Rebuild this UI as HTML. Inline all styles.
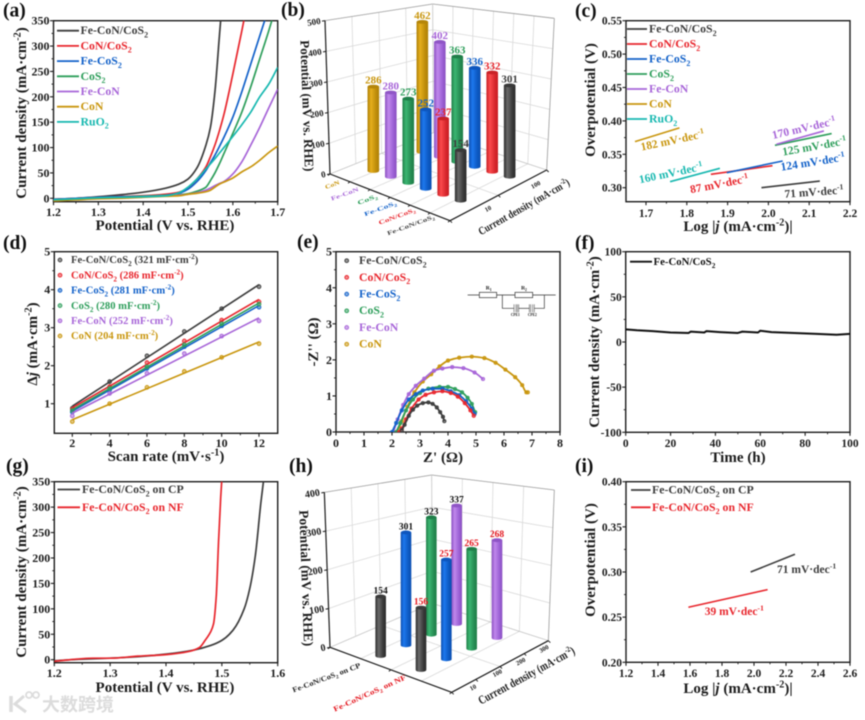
<!DOCTYPE html>
<html lang="en">
<head>
<meta charset="utf-8">
<title>Electrocatalysis figure panels</title>
<style>
html,body{margin:0;padding:0;background:#fff;}
body{width:865px;height:720px;overflow:hidden;position:relative;}
#figure{position:absolute;left:0;top:0;filter:blur(0.5px);}
text{font-family:"Liberation Serif","Noto Serif CJK SC",serif;font-weight:bold;}
</style>
</head>
<body>
<svg id="figure" xmlns="http://www.w3.org/2000/svg" width="865" height="720" viewBox="0 0 865 720"></svg>
<script>
/* ---------- panel (a) data ---------- */
const potentialA = [1.2,1.25,1.3,1.35,1.4,1.45,1.48,1.5,1.52,1.54,1.55,1.56,1.57,1.58,1.6,1.62,1.64,1.66,1.68,1.7];
const lsvFeCoNCoS2 = [-2,0,3,7,12,20,28,38,60,105,140,210,320,430];
const lsvCoNCoS2 = [-2,0,2,3.5,5,8,12,20,38,62,82,105,133,165,245,330,420];
const lsvFeCoS2 = [-2,0,2,3,4,6,10,18,33,55,70,85,102,120,160,210,265,320,375];
const lsvCoS2 = [-3,-1,1,2,4,6,7,9,14,22,35,50,68,88,128,170,220,275,330,390];
const lsvFeCoN = [-4,-2,0,1,3,5,6,8,11,16,20,25,29,33,48,72,105,140,178,215];
const lsvCoN = [-5,-3,-1,0,2,4,5,8,10,13,16,22,28,32,40,52,62,75,90,103];
const lsvRuO2 = [-3,-1,1,2,3,5,11,22,38,58,68,78,89,100,122,145,170,200,225,258];
const ticksAx = ["1.2","1.3","1.4","1.5","1.6","1.7"];
const ticksAy = ["0","50","100","150","200","250","300","350"];
const namesA = ["Fe-CoN/CoS_{2}","CoN/CoS_{2}","Fe-CoS_{2}","CoS_{2}","Fe-CoN","CoN","RuO_{2}"];

/* ---------- panel (b) data ---------- */
const categoriesB = ["CoN","Fe-CoN","CoS_{2}","Fe-CoS_{2}","CoN/CoS_{2}","Fe-CoN/CoS_{2}"];
const potentialAt10 = [286,280,273,252,237,154];
const potentialAt100 = [462,402,363,336,332,301];
const ticksBz = ["0","100","200","300","400","500"];

/* ---------- panel (c) data ---------- */
const tafelStartX = [1.983,1.859,1.898,2.016,2.02,1.673,1.759];
const tafelEndX = [2.126,2.01,2.035,2.155,2.136,1.782,1.881];
const tafelStartY = [0.30,0.32,0.3225,0.3635,0.365,0.369,0.309];
const tafelEndY = [0.31,0.333,0.34,0.381,0.385,0.3895,0.329];
const slopeLabels = ["71","87","124","125","170","182","160"];
const ticksCx = ["1.7","1.8","1.9","2.0","2.1","2.2"];
const ticksCy = ["0.30","0.35","0.40","0.45","0.50","0.55"];

/* ---------- panel (d) data ---------- */
const scanRate = [2,4,6,8,10,12];
const dlFeCoNCoS2 = [0.88,1.58,2.26,2.9,3.5,4.08];
const dlCoNCoS2 = [0.85,1.45,2.08,2.65,3.2,3.68];
const dlFeCoS2 = [0.78,1.36,1.93,2.5,3.05,3.54];
const dlCoS2 = [0.82,1.4,1.97,2.55,3.1,3.62];
const dlFeCoN = [0.68,1.27,1.8,2.32,2.78,3.18];
const dlCoN = [0.53,1,1.43,1.85,2.22,2.58];
const capacitance = ["321","286","281","280","252","204"];
const ticksDx = ["2","4","6","8","10","12"];
const ticksDy = ["1","2","3","4","5"];

/* ---------- panel (e) data ---------- */
const eisFeCoNCoS2X = [2.35,2.45,2.6,2.75,2.9,3.1,3.3,3.45,3.6,3.72,3.82,3.87];
const eisFeCoNCoS2Y = [0.05,0.2,0.45,0.62,0.73,0.8,0.82,0.78,0.68,0.55,0.42,0.3];
const eisCoNCoS2X = [2.25,2.35,2.5,2.7,2.95,3.2,3.5,3.8,4.1,4.35,4.6,4.8,4.92];
const eisCoNCoS2Y = [0,0.1,0.35,0.65,0.9,1.03,1.1,1.13,1.08,0.98,0.8,0.6,0.45];
const eisFeCoS2X = [2,2.15,2.35,2.6,2.85,3.1,3.45,3.8,4.1,4.4,4.65,4.85,4.95];
const eisFeCoS2Y = [0,0.25,0.6,0.9,1.05,1.15,1.2,1.2,1.13,1.02,0.85,0.65,0.5];
const eisCoS2X = [2.15,2.3,2.5,2.75,3,3.3,3.7,4,4.25,4.5,4.7,4.85,4.97];
const eisCoS2Y = [0,0.25,0.6,0.9,1.08,1.2,1.25,1.25,1.19,1.1,0.95,0.78,0.55];
const eisFeCoNX = [2.05,2.2,2.4,2.6,2.85,3.15,3.5,3.8,4.15,4.55,4.95,5.25];
const eisFeCoNY = [0,0.35,0.75,1.05,1.28,1.48,1.7,1.76,1.8,1.77,1.65,1.47];
const eisCoNX = [2.2,2.35,2.55,2.8,3.1,3.4,3.7,4,4.4,4.85,5.3,5.7,6.05,6.4,6.65,6.8,6.85];
const eisCoNY = [0,0.3,0.7,1.1,1.4,1.6,1.82,1.98,2.06,2.09,2.05,1.92,1.73,1.52,1.3,1.1,1.1];
const ticksEx = ["0","1","2","3","4","5","6","7","8"];
const ticksEy = ["0","1","2","3","4","5"];
const namesE = ["Fe-CoN/CoS_{2}","CoN/CoS_{2}","Fe-CoS_{2}","CoS_{2}","Fe-CoN","CoN"];

/* ---------- panel (f) data ---------- */
const stabilityTime = [0,5,12,20,28,29,35,36,42,50,52,59,60,65,75,85,94,100];
const stabilityCurrent = [14,13,12,10.5,10,11.5,10.5,12,11,10,11.5,10.5,12.5,11,10,9,8,9];
const ticksFx = ["0","20","40","60","80","100"];
const ticksFy = ["-100","-50","0","50","100"];

/* ---------- panel (g) data ---------- */
const potentialCP = [1.2,1.25,1.3,1.35,1.4,1.45,1.48,1.5,1.52,1.54,1.55,1.56,1.57,1.575];
const currentCP = [-2,1,3,6,11,19,28,38,58,100,140,205,310,355];
const potentialNF = [1.2,1.27,1.3,1.35,1.4,1.44,1.46,1.47,1.48,1.485,1.49,1.494,1.498,1.5];
const currentNF = [-3,3,3,7,10,16,24,38,55,70,125,230,320,355];
const ticksGx = ["1.2","1.3","1.4","1.5","1.6"];
const ticksGy = ["0","50","100","150","200","250","300","350"];

/* ---------- panel (h) data ---------- */
const categoriesH = ["Fe-CoN/CoS_{2} on CP","Fe-CoN/CoS_{2} on NF"];
const densityLabelsH = ["10","100","200","300"];
const potentialOnCP = [154,301,323,337];
const potentialOnNF = [156,257,265,268];
const ticksHz = ["0","100","200","300","400"];

/* ---------- panel (i) data ---------- */
const tafelIStartX = [1.979,1.59];
const tafelIEndX = [2.256,2.085];
const tafelIStartY = [0.30,0.261];
const tafelIEndY = [0.3196,0.2805];
const ticksIx = ["1.2","1.4","1.6","1.8","2.0","2.2","2.4","2.6"];
const ticksIy = ["0.20","0.25","0.30","0.35","0.40"];

/* ---------- drawing helpers ---------- */
const NS = "http://www.w3.org/2000/svg";
const svg = document.getElementById("figure");
const INK = "#1c1c1c";
const COL = {black:"#3d3d3d",red:"#e8262d",blue:"#1261c9",green:"#2e9e5b",purple:"#a765d8",gold:"#c9960e",cyan:"#17b8b0"};
const seven = [COL.black,COL.red,COL.blue,COL.green,COL.purple,COL.gold,COL.cyan];

function el(tag, attrs, name, parent){
  const e = document.createElementNS(NS, tag);
  for(const k in attrs){ e.setAttribute(k, attrs[k]); }
  
  
  (parent || svg).appendChild(e);
  return e;
}
function lin(d0,d1,r0,r1){
  return v => r0 + (v-d0)*(r1-r0)/(d1-d0);
}
function richText(node, str, size){
  const parts = str.split(/(_\{[^}]*\}|\^\{[^}]*\}|\*[^*]+\*)/).filter(s => s.length);
  let shift = 0;
  parts.forEach(p => {
    const t = document.createElementNS(NS, "tspan");
    let want = 0, content = p;
    if(p[0]==="_"){ want = size*0.28; content = p.slice(2,-1); t.setAttribute("font-size", size*0.68); }
    else if(p[0]==="^"){ want = -size*0.38; content = p.slice(2,-1); t.setAttribute("font-size", size*0.68); }
    else if(p[0]==="*"){ content = p.slice(1,-1); t.setAttribute("font-style","italic"); }
    if(want !== shift){ t.setAttribute("dy", want-shift); shift = want; }
    t.textContent = content;
    node.appendChild(t);
  });
}
function txt(x, y, str, o, name, parent){
  o = o || {};
  const size = o.size || 11.8;
  const a = {x:x, y:y, "font-size":size, fill:o.fill || INK, "text-anchor":o.anchor || "start"};
  if(o.rotate !== undefined){ a.transform = "rotate("+o.rotate+" "+x+" "+y+")"; }
  if(o.len){ a.textLength = o.len; a.lengthAdjust = "spacingAndGlyphs"; }
  if(o.family){ a.style = "font-family:"+o.family+";font-weight:"+(o.weight||"normal"); }
  const e = el("text", a, name, parent);
  richText(e, str, size);
  return e;
}
function ln(x1,y1,x2,y2,stroke,w,name,parent){
  return el("line",{x1:x1,y1:y1,x2:x2,y2:y2,stroke:stroke,"stroke-width":w,"stroke-linecap":"butt"},name,parent);
}
function polyline(xv, yv, xs, ys, stroke, w, name, parent){
  const n = Math.min(xv.length, yv.length);
  const pts = [];
  for(let i=0;i<n;i++){ pts.push(xs(xv[i]).toFixed(2)+","+ys(yv[i]).toFixed(2)); }
  return el("polyline",{points:pts.join(" "),fill:"none",stroke:stroke,"stroke-width":w,"stroke-linejoin":"round"},name,parent);
}
/* monotone cubic curve through the data points (x strictly increasing) */
function curve(xv, yv, xs, ys, stroke, w, name, parent){
  const n = Math.min(xv.length, yv.length);
  const px = [], py = [];
  for(let i=0;i<n;i++){ px.push(xs(xv[i])); py.push(ys(yv[i])); }
  const h = [], d = [], m = [];
  for(let i=0;i<n-1;i++){ h.push(px[i+1]-px[i]); d.push((py[i+1]-py[i])/h[i]); }
  m[0] = d[0]; m[n-1] = d[n-2];
  for(let i=1;i<n-1;i++){
    if(d[i-1]*d[i] <= 0){ m[i] = 0; }
    else {
      const w1 = 2*h[i]+h[i-1], w2 = h[i]+2*h[i-1];
      m[i] = (w1+w2)/(w1/d[i-1]+w2/d[i]);
    }
  }
  let path = "M"+px[0].toFixed(2)+" "+py[0].toFixed(2);
  for(let i=0;i<n-1;i++){
    const c = h[i]/3;
    path += "C"+(px[i]+c).toFixed(2)+" "+(py[i]+m[i]*c).toFixed(2)+" "+(px[i+1]-c).toFixed(2)+" "+(py[i+1]-m[i+1]*c).toFixed(2)+" "+px[i+1].toFixed(2)+" "+py[i+1].toFixed(2);
  }
  return el("path",{d:path,fill:"none",stroke:stroke,"stroke-width":w,"stroke-linejoin":"round"},name,parent);
}
let clipCounter = 0;
function panel(name, label, lx, ly){
  const g = el("g",{},"panel-"+name);
  txt(lx, ly, label, {size:19.5, fill:"#111"}, "panel-label-"+name, g);
  return g;
}
function axes(g, c){
  el("rect",{x:c.l,y:c.t,width:c.r-c.l,height:c.b-c.t,fill:"none",stroke:INK,"stroke-width":1.4},"plot-frame",g);
  const xv = c.xticks.map(Number), yv = c.yticks.map(Number);
  c.xticks.forEach((s,i) => {
    const x = c.xs(xv[i]);
    ln(x,c.b,x,c.b+3.5,INK,1.1,"x-tick",g);
    txt(x,c.xbase,s,{anchor:"middle",size:c.tsize||12},"x-tick-label",g);
    if(i<xv.length-1){
      const m = c.xs((xv[i]+xv[i+1])/2);
      ln(m,c.b,m,c.b+2,INK,0.9,"x-minor-tick",g);
    }
  });
  c.yticks.forEach((s,i) => {
    const y = c.ys(yv[i]);
    ln(c.l-3.5,y,c.l,y,INK,1.1,"y-tick",g);
    txt(c.l-4,y+4,s,{anchor:"end",size:c.tsize||12},"y-tick-label",g);
    if(i<yv.length-1){
      const m = c.ys((yv[i]+yv[i+1])/2);
      ln(c.l-2,m,c.l,m,INK,0.9,"y-minor-tick",g);
    }
  });
  txt(c.xtx,c.xty,c.xtitle,{anchor:"middle",size:15},"x-axis-title",g);
  txt(c.ytx,c.yty,c.ytitle,{anchor:"middle",size:c.ytsize||15,rotate:-90},"y-axis-title",g);
  const id = "clip"+(++clipCounter);
  const cp = el("clipPath",{id:id},"plot-clip",g);
  el("rect",{x:c.l,y:c.t,width:c.r-c.l,height:c.b-c.t},"plot-clip-rect",cp);
  return el("g",{"clip-path":"url(#"+id+")"},"plot-area",g);
}
function lineLegend(g, names, colors, lx0, lx1, tx, y0, step, size, textColors){
  names.forEach((n,i) => {
    const y = y0 + step*i;
    ln(lx0,y,lx1,y,colors[i],1.8,"legend-line",g);
    txt(tx,y+3.5,n,{fill:(textColors||colors)[i],size:size||11.8},"legend-entry",g);
  });
}
function markers(g, xv, yv, xs, ys, color, r, name){
  xv.forEach((v,i) => {
    el("circle",{cx:xs(v),cy:ys(yv[i]),r:r,fill:color,"fill-opacity":0.55,stroke:color,"stroke-width":0.9},name,g);
  });
}
function mean(a){ return a.reduce((s,v)=>s+v,0)/a.length; }
function linearFit(xv,yv){
  const mx = mean(xv), my = mean(yv);
  let n=0,d=0;
  xv.forEach((v,i)=>{ n+=(v-mx)*(yv[i]-my); d+=(v-mx)*(v-mx); });
  const b = n/d;
  return v => my + b*(v-mx);
}

/* gradients for 3D cylinders */
const defs = el("defs",{},"gradient-definitions");
const BAR = {
  grey:["#2b2b2b","#6a6a6a","#383838","#3a3a3a"],
  blue:["#0d4fb0","#1d78ee","#0c58c0","#0e56bd"],
  green:["#1f7f48","#3cb672","#258a52","#1f7e49"],
  purple:["#8a4fc0","#c088ec","#9a5fd4","#8f55c6"],
  red:["#c81f24","#fb4a4d","#d6262b","#c92227"],
  gold:["#ae8008","#e6ae1c","#bd8c0a","#b5860a"]
};
Object.keys(BAR).forEach(k => {
  const g = el("linearGradient",{id:"cyl-"+k,x1:"0",x2:"1",y1:"0",y2:"0"},"cylinder-gradient",defs);
  const stops = [[0,BAR[k][0]],[0.3,BAR[k][1]],[0.75,BAR[k][2]],[1,BAR[k][0]]];
  stops.forEach(s => { el("stop",{offset:s[0],"stop-color":s[1]},"gradient-stop",g); });
});
function cylinder(g, x, yBase, h, rx, ry, key, name){
  const top = yBase - h;
  el("path",{d:"M"+(x-rx)+" "+top+"V"+yBase+"A"+rx+" "+ry+" 0 0 0 "+(x+rx)+" "+yBase+"V"+top+"Z",fill:"url(#cyl-"+key+")"},name,g);
  el("ellipse",{cx:x,cy:top,rx:rx,ry:ry,fill:BAR[key][3]},name+"-top",g);
}
function wallLines(g, a, b, c, d, n){
  for(let i=1;i<n;i++){
    const t = i/n;
    ln(a[0]+(b[0]-a[0])*t,a[1]+(b[1]-a[1])*t,d[0]+(c[0]-d[0])*t,d[1]+(c[1]-d[1])*t,"#d9d9d9",0.8,"grid-line",g);
  }
}
function edgeTicks(g, a, b, n, dx, dy, name){
  for(let i=0;i<=n;i++){
    const t = i/n, x = a[0]+(b[0]-a[0])*t, y = a[1]+(b[1]-a[1])*t;
    ln(x,y,x+dx,y+dy,INK,0.9,name,g);
  }
}

/* ---------- panel a ---------- */
(function(){
  const g = panel("a","(a)",3,16.5);
  const xs = lin(1.2,1.7,53.5,277.7), ys = lin(0,350,198.3,20.7);
  const area = axes(g,{l:53.5,r:277.7,t:20.7,b:201.7,xs:xs,ys:ys,xticks:ticksAx,yticks:ticksAy,xbase:216,
    xtitle:"Potential (V vs. RHE)",xtx:165,xty:230,ytitle:"Current density (mA·cm^{-2})",ytx:26,yty:113});
  const series = [lsvFeCoNCoS2,lsvCoNCoS2,lsvFeCoS2,lsvCoS2,lsvFeCoN,lsvCoN,lsvRuO2];
  series.forEach((s,i) => { curve(potentialA,s,xs,ys,seven[i],1.7,"lsv-curve",area); });
  lineLegend(g,namesA,seven,57,79,80.5,30.7,15.2);
})();

/* ---------- panel b ---------- */
(function(){
  const g = panel("b","(b)",281,16);
  const ox = 285, oy = 0;
  const P = (x,y) => [ox+x/3, oy+y/3];
  const O=P(135,522),A=P(495,662),B=P(785,510),TL=P(120,62),TB=P(443,12),TR=P(808,55),CB=P(445,398);
  wallLines(g,TL,TB,CB,O,4);
  wallLines(g,TB,TR,B,CB,6);
  wallLines(g,O,TL,TB,CB,5);
  wallLines(g,CB,TB,TR,B,5);
  wallLines(g,O,A,B,CB,6);
  wallLines(g,O,CB,B,A,2);
  ln(TL[0],TL[1],TB[0],TB[1],"#9a9a9a",0.8,"wall-top-edge",g);
  ln(TB[0],TB[1],TR[0],TR[1],"#9a9a9a",0.8,"wall-top-edge",g);
  ln(TB[0],TB[1],CB[0],CB[1],"#c4c4c4",0.8,"back-corner-edge",g);
  ln(TR[0],TR[1],B[0],B[1],"#9a9a9a",0.8,"wall-right-edge",g);
  ln(O[0],O[1],CB[0],CB[1],"#c4c4c4",0.8,"floor-back-edge",g);
  ln(CB[0],CB[1],B[0],B[1],"#c4c4c4",0.8,"floor-back-edge",g);
  ln(TL[0],TL[1],O[0],O[1],INK,1.2,"z-axis",g);
  ln(O[0],O[1],A[0],A[1],INK,1.2,"x-axis",g);
  ln(A[0],A[1],B[0],B[1],INK,1.2,"y-axis",g);
  edgeTicks(g,O,A,6,-2,1.5,"category-tick");
  edgeTicks(g,A,B,2,2,2,"density-tick");
  const zt = lin(0,500,0,1);
  ticksBz.forEach(s => {
    const t = zt(Number(s)), x = O[0]+(TL[0]-O[0])*t, y = O[1]+(TL[1]-O[1])*t;
    ln(x-3,y+0.5,x,y,INK,1,"z-tick",g);
    txt(x-4,y+3,s,{anchor:"end",size:9,rotate:-10},"z-tick-label",g);
  });
  txt(ox+50/3+1,oy+318/3,"Potential (mV vs. RHE)",{anchor:"middle",size:13,rotate:88},"z-axis-title",g);
  const keys = ["gold","purple","green","blue","red","grey"];
  const colors = [COL.gold,COL.purple,COL.green,COL.blue,COL.red,COL.black];
  const baseX = (i,r) => 265 + 52.4*i + 147*r;
  const baseY = (i,r) => 513 + 17.8*i - (57+3*i)*r;
  const heightOf = (v,i,r) => v*((0.885+0.02*i) - r*(0.04+0.007*i));
  [potentialAt100,potentialAt10].forEach((vals,idx) => {
    const r = idx===0 ? 1 : 0;
    vals.forEach((v,i) => {
      const x = ox+baseX(i,r)/3, y = oy+baseY(i,r)/3, h = heightOf(v,i,r)/3;
      cylinder(g,x,y,h,5.8,1.9,keys[i],"bar-"+(r?"100":"10")+"-"+i);
      txt(x,y-h-3,String(v),{anchor:"middle",size:11,fill:colors[i]},"bar-value-label",g);
    });
  });
  const catWidth = [15,29,21,34,39,50];
  categoriesB.forEach((c,i) => {
    txt(ox+(165+57*i)/3,oy+(552+20.6*i)/3,c,{anchor:"end",size:6,rotate:-20,fill:colors[i],len:catWidth[i]},"category-label",g);
  });
  txt(ox+612/3,oy+632/3,"10",{anchor:"middle",size:6.5,rotate:-28},"density-tick-label",g);
  txt(ox+755/3,oy+560/3,"100",{anchor:"middle",size:6.5,rotate:-28},"density-tick-label",g);
  txt(ox+722/3,oy+630/3,"Current density (mA·cm^{-2})",{anchor:"middle",size:11,rotate:-29.5,len:103},"density-axis-title",g);
})();

/* ---------- panel c ---------- */
(function(){
  const g = panel("c","(c)",575,17);
  const xs = lin(1.7,2.2,646,850), ys = lin(0.3,0.55,187.7,20.7);
  const area = axes(g,{l:626,r:850,t:20.7,b:201.7,xs:xs,ys:ys,xticks:ticksCx,yticks:ticksCy,xbase:217,tsize:11.5,
    xtitle:"Log |*j* (mA·cm^{-2})|",xtx:738,xty:231,ytitle:"Overpotential (V)",ytx:595,yty:100});
  tafelStartX.forEach((x0,i) => {
    polyline([x0,tafelEndX[i]],[tafelStartY[i],tafelEndY[i]],xs,ys,seven[i],1.6,"tafel-line",area);
  });
  lineLegend(g,namesA,seven,627,647,649,29,15);
  const place = [[718,587,-4],[435,563,-11],[715,497,-9],[720,450,-10],[689,395,-13],[295,432,-12],[290,530,-12]];
  slopeLabels.forEach((s,i) => {
    txt(575+place[i][0]/3,place[i][1]/3,s+" mV·dec^{-1}",{anchor:"middle",size:11.5,fill:seven[i],rotate:place[i][2]},"tafel-slope-label",g);
  });
})();

/* ---------- panel d ---------- */
(function(){
  const g = panel("d","(d)",3,249);
  const xs = lin(2,12,72.3,259), ys = lin(1,5,403.7,251.7);
  const area = axes(g,{l:54.3,r:277.7,t:251.7,b:433.3,xs:xs,ys:ys,xticks:ticksDx,yticks:ticksDy,xbase:447,
    xtitle:"Scan rate (mV·s^{-1})",xtx:166,xty:461,ytitle:"Δ*j* (mA·cm^{-2})",ytx:37,yty:344});
  const series = [dlFeCoNCoS2,dlCoNCoS2,dlFeCoS2,dlCoS2,dlFeCoN,dlCoN];
  const cols = seven.slice(0,6);
  const names = ["Fe-CoN/CoS_{2}","CoN/CoS_{2}","Fe-CoS_{2}","CoS_{2}","Fe-CoN","CoN"];
  series.forEach((s,i) => {
    const fit = linearFit(scanRate,s);
    polyline([2,12],[fit(2),fit(12)],xs,ys,cols[i],1.6,"capacitance-fit-line",area);
    markers(area,scanRate,s,xs,ys,cols[i],1.9,"capacitance-point");
  });
  names.forEach((n,i) => {
    const y = 260+15.2*i;
    el("circle",{cx:60,cy:y,r:1.9,fill:cols[i],"fill-opacity":0.55,stroke:cols[i],"stroke-width":0.9},"legend-marker",g);
    txt(71,y+3.2,n+" ("+capacitance[i]+" mF·cm^{-2})",{fill:cols[i],size:10.6},"legend-entry",g);
  });
})();

/* ---------- panel e ---------- */
(function(){
  const g = panel("e","(e)",297,248);
  const xs = lin(0,8,336,560), ys = lin(0,5,432,251.7);
  const area = axes(g,{l:336,r:560,t:251.7,b:432,xs:xs,ys:ys,xticks:ticksEx,yticks:ticksEy,xbase:447,
    xtitle:"Z' (Ω)",xtx:443,xty:462,ytitle:"-Z'' (Ω)",ytx:318,yty:342});
  const X = [eisFeCoNCoS2X,eisCoNCoS2X,eisFeCoS2X,eisCoS2X,eisFeCoNX,eisCoNX];
  const Y = [eisFeCoNCoS2Y,eisCoNCoS2Y,eisFeCoS2Y,eisCoS2Y,eisFeCoNY,eisCoNY];
  const cols = seven.slice(0,6);
  [5,4,3,2,1,0].forEach(i => {
    curve(X[i],Y[i],xs,ys,cols[i],1.8,"nyquist-fit-curve",area);
    markers(area,X[i],Y[i],xs,ys,cols[i],1.6,"nyquist-point");
  });
  namesE.forEach((n,i) => {
    const y = 260.7+16.7*i;
    el("circle",{cx:346.7,cy:y,r:1.9,fill:cols[i],"fill-opacity":0.55,stroke:cols[i],"stroke-width":0.9},"legend-marker",g);
    txt(359,y+3.4,n,{fill:cols[i],size:11.8},"legend-entry",g);
  });
  const c = el("g",{},"equivalent-circuit-inset",g);
  const cx = z => 290+z/3, cy = z => 235+z/3;
  ln(cx(533),cy(180),cx(797),cy(180),"#333",0.7,"circuit-wire",c);
  [[568,620],[675,728]].forEach(b => {
    el("rect",{x:cx(b[0]),y:cy(172),width:(b[1]-b[0])/3,height:16/3,fill:"#fff",stroke:"#333","stroke-width":0.7},"circuit-resistor",c);
  });
  const branch = [[637,180],[637,220],[672,220]];
  el("polyline",{points:branch.map(p=>cx(p[0])+","+cy(p[1])).join(" "),fill:"none",stroke:"#333","stroke-width":0.7},"circuit-wire",c);
  el("polyline",{points:[[763,180],[763,220],[733,220]].map(p=>cx(p[0])+","+cy(p[1])).join(" "),fill:"none",stroke:"#333","stroke-width":0.7},"circuit-wire",c);
  ln(cx(686),cy(220),cx(718),cy(220),"#333",0.7,"circuit-wire",c);
  [672,678,682,686,718,722,728,733].forEach(z => {
    ln(cx(z),cy(208),cx(z),cy(232),"#333",0.5,"circuit-cpe-plate",c);
  });
  txt(cx(596),cy(163),"R_{1}",{anchor:"middle",size:5.5},"circuit-r1-label",c);
  txt(cx(702),cy(163),"R_{2}",{anchor:"middle",size:5.5},"circuit-r2-label",c);
  txt(cx(676),cy(243),"CPE1",{anchor:"middle",size:3.6},"circuit-cpe1-label",c);
  txt(cx(727),cy(243),"CPE2",{anchor:"middle",size:3.6},"circuit-cpe2-label",c);
})();

/* ---------- panel f ---------- */
(function(){
  const g = panel("f","(f)",575,249);
  const xs = lin(0,100,625.7,850), ys = lin(-100,100,432.3,251.7);
  const area = axes(g,{l:625.7,r:850,t:251.7,b:432.3,xs:xs,ys:ys,xticks:ticksFx,yticks:ticksFy,xbase:447,tsize:11.5,
    xtitle:"Time (h)",xtx:738,xty:462,ytitle:"Current density (mA·cm^{-2})",ytx:599,yty:342});
  polyline(stabilityTime,stabilityCurrent,xs,ys,"#111",2,"stability-curve",area);
  lineLegend(g,["Fe-CoN/CoS_{2}"],["#111"],630,652,653.5,261.7,0,10.8);
})();

/* ---------- panel g ---------- */
(function(){
  const g = panel("g","(g)",6,472);
  const xs = lin(1.2,1.6,54.3,277.7), ys = lin(0,350,659.7,481.7);
  const area = axes(g,{l:54.3,r:277.7,t:481.7,b:662.7,xs:xs,ys:ys,xticks:ticksGx,yticks:ticksGy,xbase:677,
    xtitle:"Potential (V vs. RHE)",xtx:165,xty:692,ytitle:"Current density (mA·cm^{-2})",ytx:26,yty:572});
  curve(potentialCP,currentCP,xs,ys,COL.black,1.7,"lsv-curve-cp",area);
  curve(potentialNF,currentNF,xs,ys,COL.red,1.7,"lsv-curve-nf",area);
  lineLegend(g,["Fe-CoN/CoS_{2} on CP","Fe-CoN/CoS_{2} on NF"],[COL.black,COL.red],57.5,80,82,489.5,17.8);
})();

/* ---------- panel h ---------- */
(function(){
  const g = panel("h","(h)",289,472);
  const ox = 285, oy = 475;
  const P = (x,y) => [ox+x/3, oy+y/3];
  const O=P(135,517),A=P(500,652),B=P(790,497),TL=P(118,52),TB=P(440,0),TR=P(808,45),CB=P(442,385);
  wallLines(g,TL,TB,CB,O,4);
  wallLines(g,TB,TR,B,CB,4);
  wallLines(g,O,TL,TB,CB,4);
  wallLines(g,CB,TB,TR,B,4);
  wallLines(g,O,A,B,CB,4);
  wallLines(g,O,CB,B,A,2);
  ln(TL[0],TL[1],TB[0],TB[1],"#9a9a9a",0.8,"wall-top-edge",g);
  ln(TB[0],TB[1],TR[0],TR[1],"#9a9a9a",0.8,"wall-top-edge",g);
  ln(TB[0],TB[1],CB[0],CB[1],"#c4c4c4",0.8,"back-corner-edge",g);
  ln(TR[0],TR[1],B[0],B[1],"#9a9a9a",0.8,"wall-right-edge",g);
  ln(O[0],O[1],CB[0],CB[1],"#c4c4c4",0.8,"floor-back-edge",g);
  ln(CB[0],CB[1],B[0],B[1],"#c4c4c4",0.8,"floor-back-edge",g);
  ln(TL[0],TL[1],O[0],O[1],INK,1.2,"z-axis",g);
  ln(O[0],O[1],A[0],A[1],INK,1.2,"x-axis",g);
  ln(A[0],A[1],B[0],B[1],INK,1.2,"y-axis",g);
  edgeTicks(g,O,A,2,-2,1.5,"category-tick");
  edgeTicks(g,A,B,4,2,2,"density-tick");
  const zt = lin(0,400,0,1);
  ticksHz.forEach(s => {
    const t = zt(Number(s)), x = O[0]+(TL[0]-O[0])*t, y = O[1]+(TL[1]-O[1])*t;
    ln(x-3,y+0.5,x,y,INK,1,"z-tick",g);
    txt(x-4,y+3,s,{anchor:"end",size:10,rotate:-10},"z-tick-label",g);
  });
  txt(ox+47/3+1,oy+310/3,"Potential (mV vs. RHE)",{anchor:"middle",size:13.5,rotate:88},"z-axis-title",g);
  const keys = ["grey","blue","green","purple"];
  const baseX = (c,j) => 287 + 76*j + 121*c;
  const baseY = (c,j) => 543 - 32*j + 42*c;
  const heightOf = (v,c,j) => v*(1.16 - 0.035*j + 0.04*c);
  const order = [];
  [potentialOnCP,potentialOnNF].forEach((vals,c) => { vals.forEach((v,j) => { order.push({v:v,c:c,j:j}); }); });
  order.sort((a,b) => baseY(a.c,a.j)-baseY(b.c,b.j));
  order.forEach(b => {
    const x = ox+baseX(b.c,b.j)/3, y = oy+baseY(b.c,b.j)/3, h = heightOf(b.v,b.c,b.j)/3;
    cylinder(g,x,y,h,5.3,1.9,keys[b.j],"bar-"+(b.c?"nf":"cp")+"-"+densityLabelsH[b.j]);
    txt(x,y-h-3,String(b.v),{anchor:"middle",size:9.5,fill:b.c?"#e3141c":"#111"},"bar-value-label",g);
  });
  txt(ox+228/3,oy+577/3,categoriesH[0],{anchor:"end",size:7.5,rotate:-20.5,fill:"#222",len:72},"category-label",g);
  txt(ox+365/3,oy+612/3,categoriesH[1],{anchor:"end",size:7.5,rotate:-24.5,fill:"#e3141c",len:79},"category-label",g);
  const rowX = [567,640,710,780], rowY = [643,600,565,527];
  densityLabelsH.forEach((s,j) => {
    txt(ox+rowX[j]/3,oy+rowY[j]/3,s,{anchor:"middle",size:6.5,rotate:-28},"density-tick-label",g);
  });
  txt(ox+730/3,oy+612/3,"Current density (mA·cm^{-2})",{anchor:"middle",size:12,rotate:-28.5,len:108},"density-axis-title",g);
})();

/* ---------- panel i ---------- */
(function(){
  const g = panel("i","(i)",575,472);
  const xs = lin(1.2,2.6,626,850), ys = lin(0.2,0.4,662.3,481.7);
  const area = axes(g,{l:626,r:850,t:481.7,b:662.3,xs:xs,ys:ys,xticks:ticksIx,yticks:ticksIy,xbase:677,tsize:11.5,
    xtitle:"Log |*j* (mA·cm^{-2})|",xtx:738,xty:693,ytitle:"Overpotential (V)",ytx:595,yty:560});
  const cols = [COL.black,COL.red];
  tafelIStartX.forEach((x0,i) => {
    polyline([x0,tafelIEndX[i]],[tafelIStartY[i],tafelIEndY[i]],xs,ys,cols[i],1.6,"tafel-line",area);
  });
  lineLegend(g,["Fe-CoN/CoS_{2} on CP","Fe-CoN/CoS_{2} on NF"],cols,631,650.5,652,490,17.3);
  txt(575+695/3,475+294/3,"71 mV·dec^{-1}",{anchor:"middle",fill:COL.black,size:11.5},"tafel-slope-label",g);
  txt(575+478/3,475+420/3,"39 mV·dec^{-1}",{anchor:"middle",fill:COL.red,size:11.5},"tafel-slope-label",g);
})();

/* ---------- watermark ---------- */
(function(){
  const g = el("g",{},"watermark");
  const s = "#dcdcdc";
  ln(11,696,11,712,s,3.5,"watermark-logo-stem",g);
  el("polyline",{points:"24,696 15,704 26,712",fill:"none",stroke:s,"stroke-width":3},"watermark-logo-arm",g);
  el("circle",{cx:29,cy:695,r:3,fill:"none",stroke:s,"stroke-width":1.8},"watermark-logo-dot",g);
  el("circle",{cx:36,cy:695,r:3,fill:"none",stroke:s,"stroke-width":1.8},"watermark-logo-dot",g);
  txt(42,711,"大数跨境",{size:18,fill:s,family:"'Noto Sans CJK SC',sans-serif",weight:"700"},"watermark-text",g);
})();
</script>
</body>
</html>
